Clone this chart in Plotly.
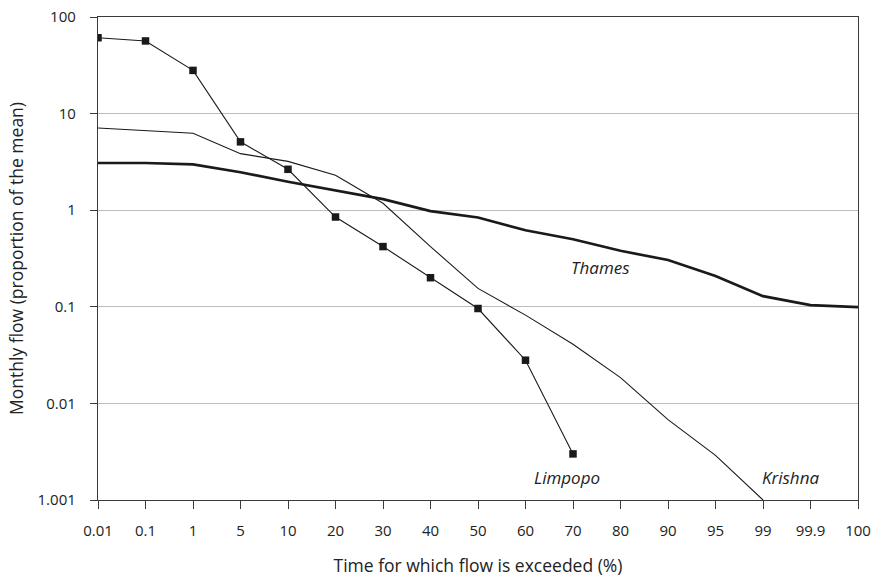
import plotly.graph_objects as go

categories = ["0.01", "0.1", "1", "5", "10", "20", "30", "40", "50", "60",
              "70", "80", "90", "95", "99", "99.9", "100"]

thames = [3.08, 3.08, 2.98, 2.47, 1.97, 1.59, 1.30, 0.98, 0.84, 0.62,
          0.50, 0.38, 0.305, 0.208, 0.129, 0.104, 0.099]
krishna = [7.1, 6.7, 6.25, 3.85, 3.2, 2.3, 1.18, 0.42, 0.155, 0.082,
           0.041, 0.0185, 0.0068, 0.0029, 0.001]
limpopo = [61, 56.5, 28, 5.1, 2.65, 0.85, 0.42, 0.20, 0.096, 0.028, 0.003]

y_tickvals = [0.001, 0.01, 0.1, 1, 10, 100]
y_ticktext = ["1.001", "0.01", "0.1", "1", "10", "100"]

FONT = "Open Sans"
INK = "#1a1a1a"
TXT = "#222"

fig = go.Figure()
fig.add_trace(go.Scatter(x=categories, y=thames, mode="lines",
                         line=dict(color=INK, width=2.7), name="Thames"))
fig.add_trace(go.Scatter(x=categories[:len(krishna)], y=krishna, mode="lines",
                         line=dict(color=INK, width=1.1), name="Krishna"))
fig.add_trace(go.Scatter(x=categories[:len(limpopo)], y=limpopo, mode="lines+markers",
                         line=dict(color=INK, width=1.1),
                         marker=dict(symbol="square", size=7.5, color=INK),
                         name="Limpopo"))

lab_font = dict(family=FONT, size=17, color=TXT)
fig.add_annotation(x=10.57, y=-0.588, text="<i>Thames</i>", showarrow=False, font=lab_font)
fig.add_annotation(x=9.87, y=-2.772, text="<i>Limpopo</i>", showarrow=False, font=lab_font)
fig.add_annotation(x=14.57, y=-2.772, text="<i>Krishna</i>", showarrow=False, font=lab_font)

fig.update_layout(
    width=871, height=580,
    margin=dict(l=98, r=13, t=17, b=80),
    paper_bgcolor="white", plot_bgcolor="white",
    showlegend=False,
    font=dict(family=FONT, size=15, color=TXT),
    xaxis=dict(type="category", categoryorder="array", categoryarray=categories,
               range=[0, 16], showgrid=False, zeroline=False, automargin=False,
               showline=True, linecolor="#3a3a3a", linewidth=1.4, mirror=True,
               ticks="outside", ticklen=8, tickcolor="#3a3a3a", tickwidth=1.4,
               ticklabelstandoff=9,
               tickfont=dict(family=FONT, size=15, color=TXT),
               title=dict(text="Time for which flow is exceeded (%)",
                          font=dict(family=FONT, size=17.5, color=TXT), standoff=20)),
    yaxis=dict(type="log", range=[-3, 2], tickvals=y_tickvals, ticktext=y_ticktext,
               showgrid=True, gridcolor="#bdbdbd", gridwidth=1, zeroline=False,
               automargin=False,
               showline=True, linecolor="#3a3a3a", linewidth=1.4, mirror=True,
               ticks="outside", ticklen=7, tickcolor="#3a3a3a", tickwidth=1.4,
               ticklabelstandoff=11,
               tickfont=dict(family=FONT, size=15, color=TXT),
               title=dict(text="Monthly flow (proportion of the mean)",
                          font=dict(family=FONT, size=17.5, color=TXT), standoff=9)),
)

fig.write_html("out.html",
               config={"displayModeBar": False},
               post_script="document.body.style.margin='0';document.body.style.overflow='hidden';")
